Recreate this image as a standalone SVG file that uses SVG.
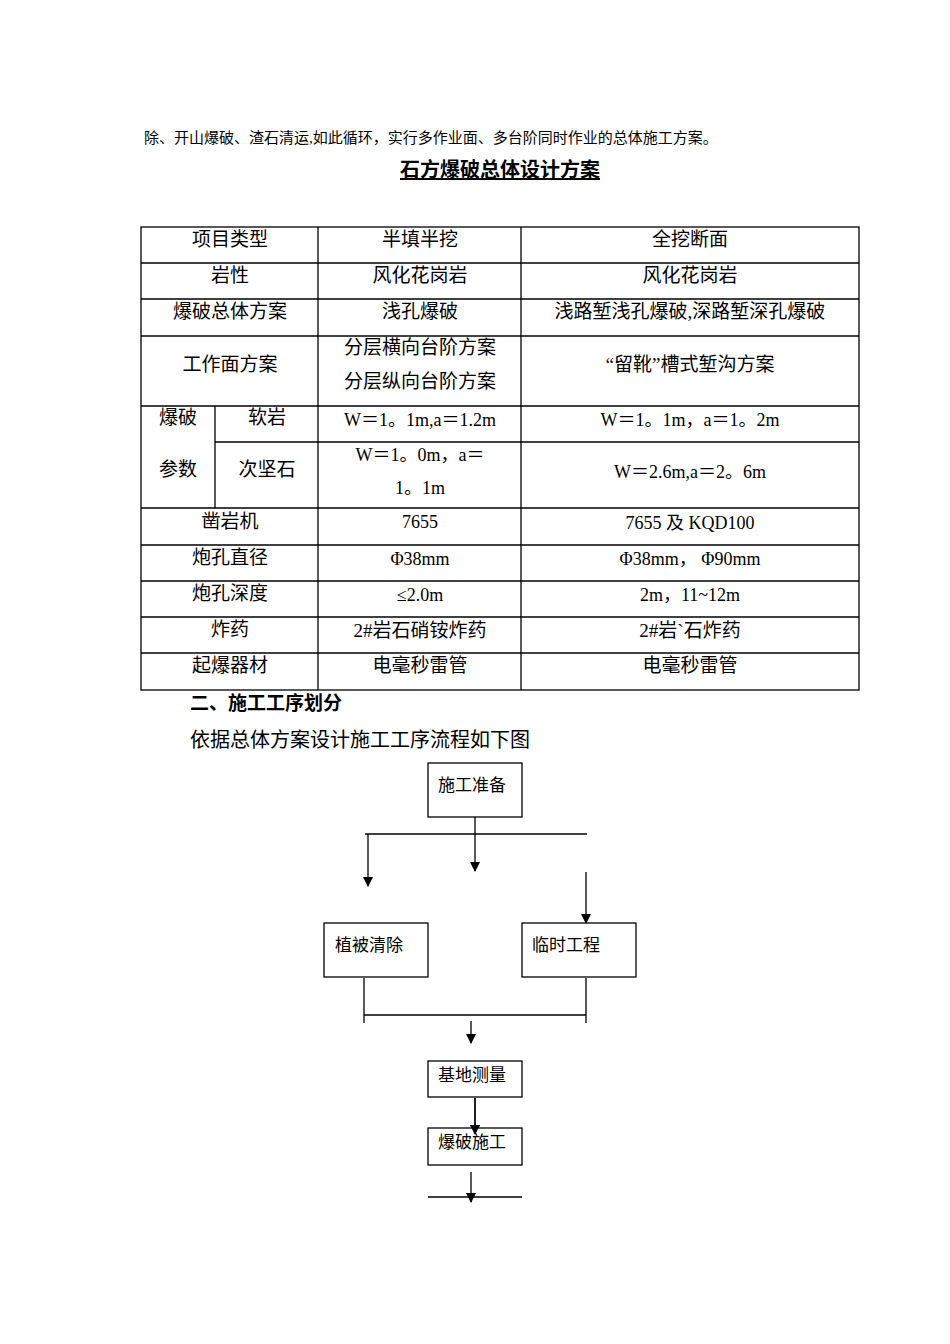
<svg xmlns="http://www.w3.org/2000/svg" width="950" height="1344" viewBox="0 0 950 1344">
<defs>
<style>
text{font-family:"Liberation Serif","Noto Sans CJK SC",serif;fill:#000}
.t{font-size:19px;text-anchor:middle}
.m{font-size:18px;text-anchor:middle}
.n{font-size:17px}
.g line{stroke:#000;stroke-width:1.3}
.b{fill:#fff;stroke:#000;stroke-width:1.3}
.c line{stroke:#000;stroke-width:1.3}
</style>
<marker id="a" markerWidth="10" markerHeight="10" refX="9" refY="5" orient="auto" markerUnits="userSpaceOnUse"><path d="M0,0 L10,5 L0,10 z" fill="#000"/></marker>
</defs>
<rect width="950" height="1344" fill="#fff"/>
<text x="144" y="143" style="font-size:15px">除、开山爆破、渣石清运,如此循环，实行多作业面、多台阶同时作业的总体施工方案。</text>
<text x="500" y="177" style="font-size:20px;font-weight:bold;text-anchor:middle;text-decoration:underline">石方爆破总体设计方案</text>
<g id="table" class="g">
<rect x="141" y="227" width="718" height="463" fill="none" stroke="#000" stroke-width="1.3"/>
<line x1="318" y1="227" x2="318" y2="690"/><line x1="521" y1="227" x2="521" y2="690"/>
<line x1="215" y1="406" x2="215" y2="508"/>
<line x1="141" y1="263" x2="859" y2="263"/><line x1="141" y1="299" x2="859" y2="299"/>
<line x1="141" y1="336" x2="859" y2="336"/><line x1="141" y1="406" x2="859" y2="406"/>
<line x1="215" y1="442" x2="859" y2="442"/><line x1="141" y1="508" x2="859" y2="508"/>
<line x1="141" y1="545" x2="859" y2="545"/><line x1="141" y1="581" x2="859" y2="581"/>
<line x1="141" y1="617" x2="859" y2="617"/><line x1="141" y1="653" x2="859" y2="653"/>
</g>
<g id="cells">
<text class="t" x="230" y="246">项目类型</text><text class="t" x="420" y="246">半填半挖</text><text class="t" x="690" y="246">全挖断面</text>
<text class="t" x="230" y="282">岩性</text><text class="t" x="420" y="282">风化花岗岩</text><text class="t" x="690" y="282">风化花岗岩</text>
<text class="t" x="230" y="318">爆破总体方案</text><text class="t" x="420" y="318">浅孔爆破</text><text class="t" x="690" y="318">浅路堑浅孔爆破,深路堑深孔爆破</text>
<text class="t" x="230" y="371">工作面方案</text><text class="t" x="420" y="354">分层横向台阶方案</text><text class="t" x="420" y="388">分层纵向台阶方案</text><text class="t" x="690" y="371">“留靴”槽式堑沟方案</text>
<text class="t" x="178" y="424">爆破</text><text class="t" x="178" y="476">参数</text>
<text class="t" x="267" y="424">软岩</text><text class="t" x="267" y="476">次坚石</text>
<text class="m" x="420" y="426">W＝1。1m,a＝1.2m</text><text class="m" x="690" y="426">W＝1。1m，a＝1。2m</text>
<text class="m" x="420" y="461">W＝1。0m，a＝</text><text class="m" x="420" y="494">1。1m</text><text class="m" x="690" y="478">W＝2.6m,a＝2。6m</text>
<text class="t" x="230" y="528">凿岩机</text><text class="m" x="420" y="528">7655</text><text class="m" x="690" y="529">7655 及 KQD100</text>
<text class="t" x="230" y="564">炮孔直径</text><text class="m" x="420" y="565">Φ38mm</text><text class="m" x="690" y="565">Φ38mm， Φ90mm</text>
<text class="t" x="230" y="600">炮孔深度</text><text class="m" x="420" y="601">≤2.0m</text><text class="m" x="690" y="601">2m，11~12m</text>
<text class="t" x="230" y="636">炸药</text><text class="t" x="420" y="637">2#岩石硝铵炸药</text><text class="t" x="690" y="637">2#岩`石炸药</text>
<text class="t" x="230" y="672">起爆器材</text><text class="t" x="420" y="672">电毫秒雷管</text><text class="t" x="690" y="672">电毫秒雷管</text>
</g>
<text x="190" y="710" style="font-size:19px;font-weight:bold">二、施工工序划分</text>
<text x="190" y="747" style="font-size:20px">依据总体方案设计施工工序流程如下图</text>
<g class="c" id="connectors">
<line x1="475" y1="817" x2="475" y2="871" marker-end="url(#a)"/>
<line x1="365" y1="834" x2="587" y2="834"/>
<line x1="368" y1="834" x2="368" y2="886" marker-end="url(#a)"/>
<line x1="586" y1="872" x2="586" y2="923" marker-end="url(#a)"/>
<line x1="364" y1="978" x2="364" y2="1023"/><line x1="586" y1="978" x2="586" y2="1023"/>
<line x1="364" y1="1015" x2="586" y2="1015"/>
<line x1="471" y1="1021" x2="471" y2="1043" marker-end="url(#a)"/>
<line x1="475" y1="1098" x2="475" y2="1134" marker-end="url(#a)"/>
<line x1="428" y1="1197" x2="522" y2="1197" stroke="#888"/>
<line x1="471" y1="1172" x2="471" y2="1202" marker-end="url(#a)"/>
</g>
<g id="n1"><rect class="b" x="428" y="763" width="94" height="54"/><text class="n" x="438" y="791">施工准备</text></g>
<g id="n2"><rect class="b" x="324" y="923" width="104" height="54"/><text class="n" x="335" y="951">植被清除</text></g>
<g id="n3"><rect class="b" x="522" y="923" width="114" height="54"/><text class="n" x="532" y="951">临时工程</text></g>
<g id="n4"><rect class="b" x="428" y="1061" width="94" height="36"/><text class="n" x="438" y="1081">基地测量</text></g>
<g id="n5"><rect class="b" x="428" y="1128" width="94" height="37"/><text class="n" x="438" y="1148">爆破施工</text></g>
<line x1="475" y1="1098" x2="475" y2="1134" stroke="#000" stroke-width="1.3" marker-end="url(#a)"/>
</svg>
